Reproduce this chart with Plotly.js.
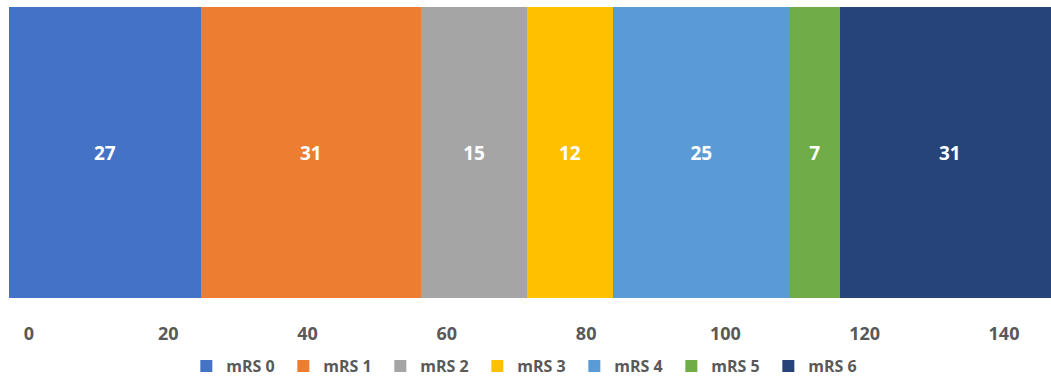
<!DOCTYPE html>
<html>
<head>
<meta charset="utf-8">
<script src="https://cdn.plot.ly/plotly-3.0.1.min.js"></script>
<style>html,body{margin:0;padding:0;background:#fff;}#chart{width:1051px;height:378px;}</style>
</head>
<body>
<div id="chart"></div>
<script>
const categories = ["mRS 0", "mRS 1", "mRS 2", "mRS 3", "mRS 4", "mRS 5", "mRS 6"];
const values = [27, 31, 15, 12, 25, 7, 31];
const colors = ["#4472C4", "#ED7D31", "#A5A5A5", "#FFC000", "#5B9BD5", "#70AD47", "#264478"];
const tickValues = [0, 20, 40, 60, 80, 100, 120, 140];

const traces = categories.map((name, i) => ({
  type: "bar",
  orientation: "h",
  name: name,
  x: [values[i]],
  y: ["row"],
  text: [String(values[i])],
  textposition: "inside",
  insidetextanchor: "middle",
  textfont: {color: "#ffffff", size: 19, family: "Open Sans", weight: 700},
  marker: {color: colors[i], line: {width: 0}},
  hoverinfo: "x+name"
}));
// invisible helper trace for the tick-label axis
traces.push({
  type: "scatter", mode: "markers", x: [tickValues[0]], y: ["row"],
  xaxis: "x2", marker: {opacity: 0}, showlegend: false, hoverinfo: "skip"
});

const layout = {
  width: 1051, height: 378,
  margin: {l: 9, r: 0, t: 7, b: 80, autoexpand: false},
  paper_bgcolor: "#ffffff", plot_bgcolor: "#ffffff",
  barmode: "stack", bargap: 0,
  showlegend: true,
  xaxis: {range: [0, 146.76], visible: false, fixedrange: true},
  xaxis2: {
    overlaying: "x", anchor: "y", side: "bottom",
    range: [-2.87, 146.75],
    tickvals: tickValues, ticktext: tickValues.map(String),
    showgrid: false, zeroline: false, showline: false,
    ticks: "outside", ticklen: 19, tickcolor: "rgba(0,0,0,0)",
    tickfont: {family: "Open Sans", size: 18, color: "#595959", weight: 700}
  },
  yaxis: {visible: false, range: [-0.5, 0.5], fixedrange: true},
  legend: {
    orientation: "h", x: 0.496, xanchor: "center", y: -0.234, yanchor: "middle",
    font: {family: "Open Sans", size: 16, color: "#595959", weight: 700},
    traceorder: "normal", itemwidth: 30,
    entrywidth: 52, entrywidthmode: "pixels",
    bgcolor: "rgba(0,0,0,0)"
  }
};

Plotly.newPlot("chart", traces, layout, {displayModeBar: false, staticPlot: true});
</script>
</body>
</html>
